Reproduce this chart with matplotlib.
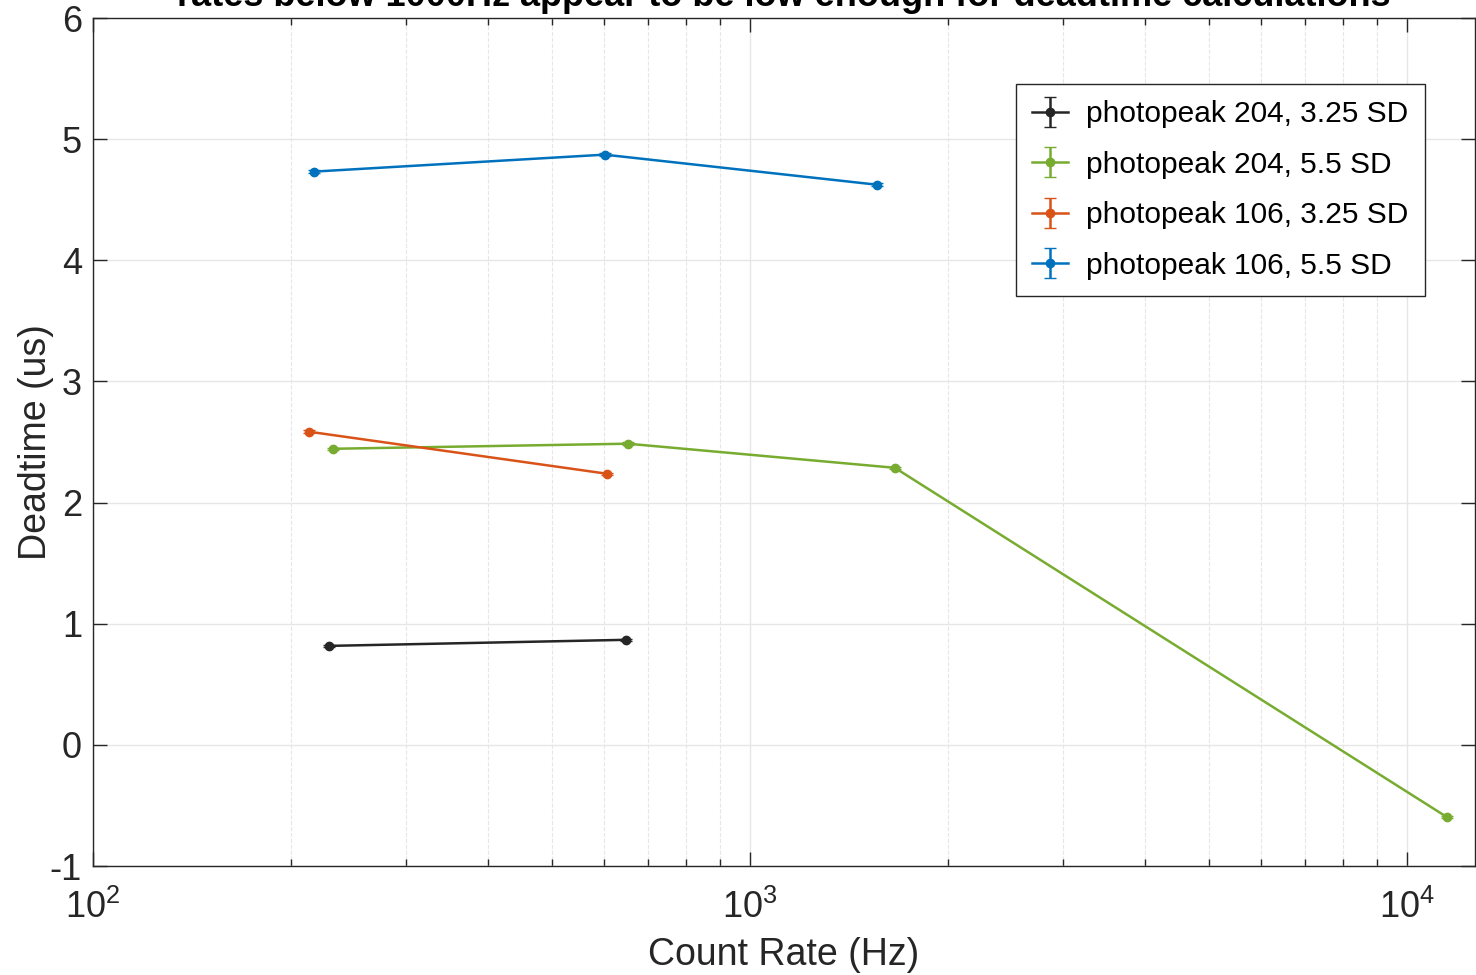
import numpy as np
from matplotlib import pyplot as plt

plt.rcParams['font.family'] = ['Liberation Sans', 'DejaVu Sans']
plt.rcParams['mathtext.fontset'] = 'custom'
plt.rcParams['mathtext.rm'] = 'Liberation Sans'
plt.rcParams['mathtext.it'] = 'Liberation Sans'
plt.rcParams['axes.unicode_minus'] = False

# data
rate_204_325 = [228.6, 647.0]
dt_204_325 = [0.817, 0.867]
err_204_325 = [0.01, 0.01]

rate_204_55 = [231.8, 651.6, 1662.0, 11500.0]
dt_204_55 = [2.444, 2.486, 2.287, -0.595]
err_204_55 = [0.01, 0.01, 0.01, 0.01]

rate_106_325 = [213.2, 605.8]
dt_106_325 = [2.585, 2.238]
err_106_325 = [0.01, 0.01]

rate_106_55 = [217.0, 601.0, 1560.0]
dt_106_55 = [4.732, 4.872, 4.624]
err_106_55 = [0.01, 0.01, 0.01]

txt = '#262626'

fig = plt.figure(figsize=(14.76, 9.75), dpi=100)
ax = fig.add_axes([93/1476, 1-866/975, (1475-93)/1476, (866-18)/975])

series = [
    (rate_204_325, dt_204_325, err_204_325, '#262626', 'photopeak 204, 3.25 SD'),
    (rate_204_55, dt_204_55, err_204_55, '#77AC30', 'photopeak 204, 5.5 SD'),
    (rate_106_325, dt_106_325, err_106_325, '#D95319', 'photopeak 106, 3.25 SD'),
    (rate_106_55, dt_106_55, err_106_55, '#0072BD', 'photopeak 106, 5.5 SD'),
]
for x, y, e, c, lab in series:
    ax.errorbar(x, y, yerr=e, color=c, marker='o', markersize=6, lw=1.8,
                elinewidth=1.8, capsize=4, label=lab)

ax.set_xscale('log')
ax.set_xlim(100, 12700)
ax.set_ylim(-1, 6)

ax.grid(True, which='major', color='#e6e6e6', lw=1)
ax.grid(True, which='minor', axis='x', color='#e6e6e6', lw=0.8, linestyle='--')
ax.set_axisbelow(True)

ax.tick_params(which='both', direction='in', top=True, right=True, colors=txt,
               labelsize=26, width=1)
ax.tick_params(which='major', length=10, pad=8)
ax.tick_params(which='minor', length=5)
ax.tick_params(axis='x', which='major', pad=17)
for s in ax.spines.values():
    s.set_color(txt)
    s.set_linewidth(1)

ax.set_xlabel('Count Rate (Hz)', fontsize=27, color=txt, labelpad=8)
ax.set_ylabel('Deadtime (us)', fontsize=27, color=txt, labelpad=-3)
ax.set_title('rates below 1000Hz appear to be low enough for deadtime calculations',
             fontsize=26, fontweight='bold', color='black', pad=8.5)

leg = ax.legend(loc='upper right', bbox_to_anchor=((1425-93)/1382, (866-84)/848),
                borderaxespad=0, fontsize=21.5, fancybox=False, framealpha=1,
                edgecolor=txt, handlelength=1.2, handletextpad=0.6,
                labelspacing=0.75, borderpad=0.55)
leg.get_frame().set_linewidth(1)

fig.savefig('out.png', dpi=100)
